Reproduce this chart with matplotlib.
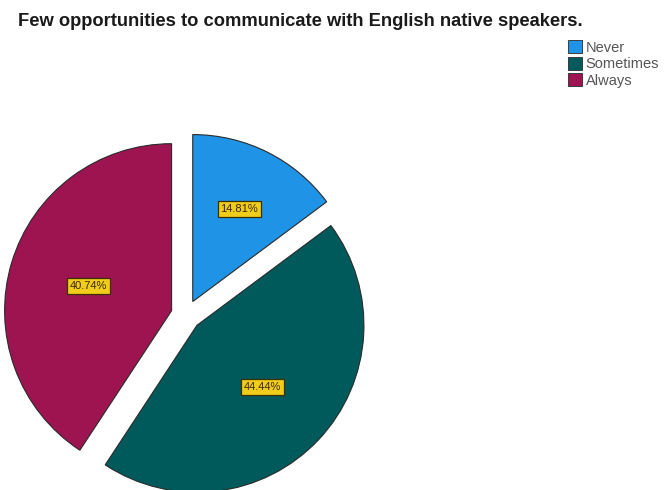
import numpy as np
import matplotlib.pyplot as plt
from matplotlib.patches import Patch

plt.rcParams['font.family'] = ['Liberation Sans', 'DejaVu Sans']

# answer categories and their share of respondents (%)
categories = ['Never', 'Sometimes', 'Always']
shares = [14.81, 44.44, 40.74]
colors = ['#1f93e6', '#005a5b', '#9e1450']
label_r = [0.62, 0.54, 0.52]   # how far out each percentage box sits

W, H = 668, 490
fig = plt.figure(figsize=(W / 100, H / 100), dpi=100)

# pie centre at (186, 315) px from top-left, radius ~167 px
R = 167
cx, cy = 186, H - 315
half = 200
ax = fig.add_axes([(cx - half) / W, (cy - half) / H, 2 * half / W, 2 * half / H])

wedges, _ = ax.pie(shares, colors=colors, startangle=90, counterclock=False,
                   explode=[0.09] * len(shares), radius=1,
                   wedgeprops=dict(edgecolor='#2a2a2a', linewidth=0.8))
# pie() resets the limits, so fix them afterwards
ax.set_xlim(-half / R, half / R)
ax.set_ylim(-half / R, half / R)
ax.axis('off')

for w, val, r in zip(wedges, shares, label_r):
    mid = np.deg2rad((w.theta1 + w.theta2) / 2)
    x0, y0 = w.center
    ax.text(x0 + r * np.cos(mid), y0 + r * np.sin(mid), f'{val:.2f}%',
            ha='center', va='center', fontsize=8, color='#3a2a00',
            bbox=dict(boxstyle='square,pad=0.25', facecolor='#f2cc1a',
                      edgecolor='#3a3000', linewidth=0.9))

fig.text(18 / W, 1 - 21 / H,
         'Few opportunities to communicate with English native speakers.',
         fontsize=13.2, fontweight='bold', color='#1a1a1a', va='center', ha='left')

handles = [Patch(facecolor=c, edgecolor='#2a2a2a', linewidth=0.6) for c in colors]
fig.legend(handles, categories, loc='upper left', bbox_to_anchor=(568 / W, 1 - 40 / H),
           frameon=False, fontsize=10.5, handlelength=0.95, handleheight=1.0,
           handletextpad=0.25, labelspacing=0.15, borderaxespad=0, borderpad=0,
           labelcolor='#555555')

fig.savefig('out.png', dpi=100)
